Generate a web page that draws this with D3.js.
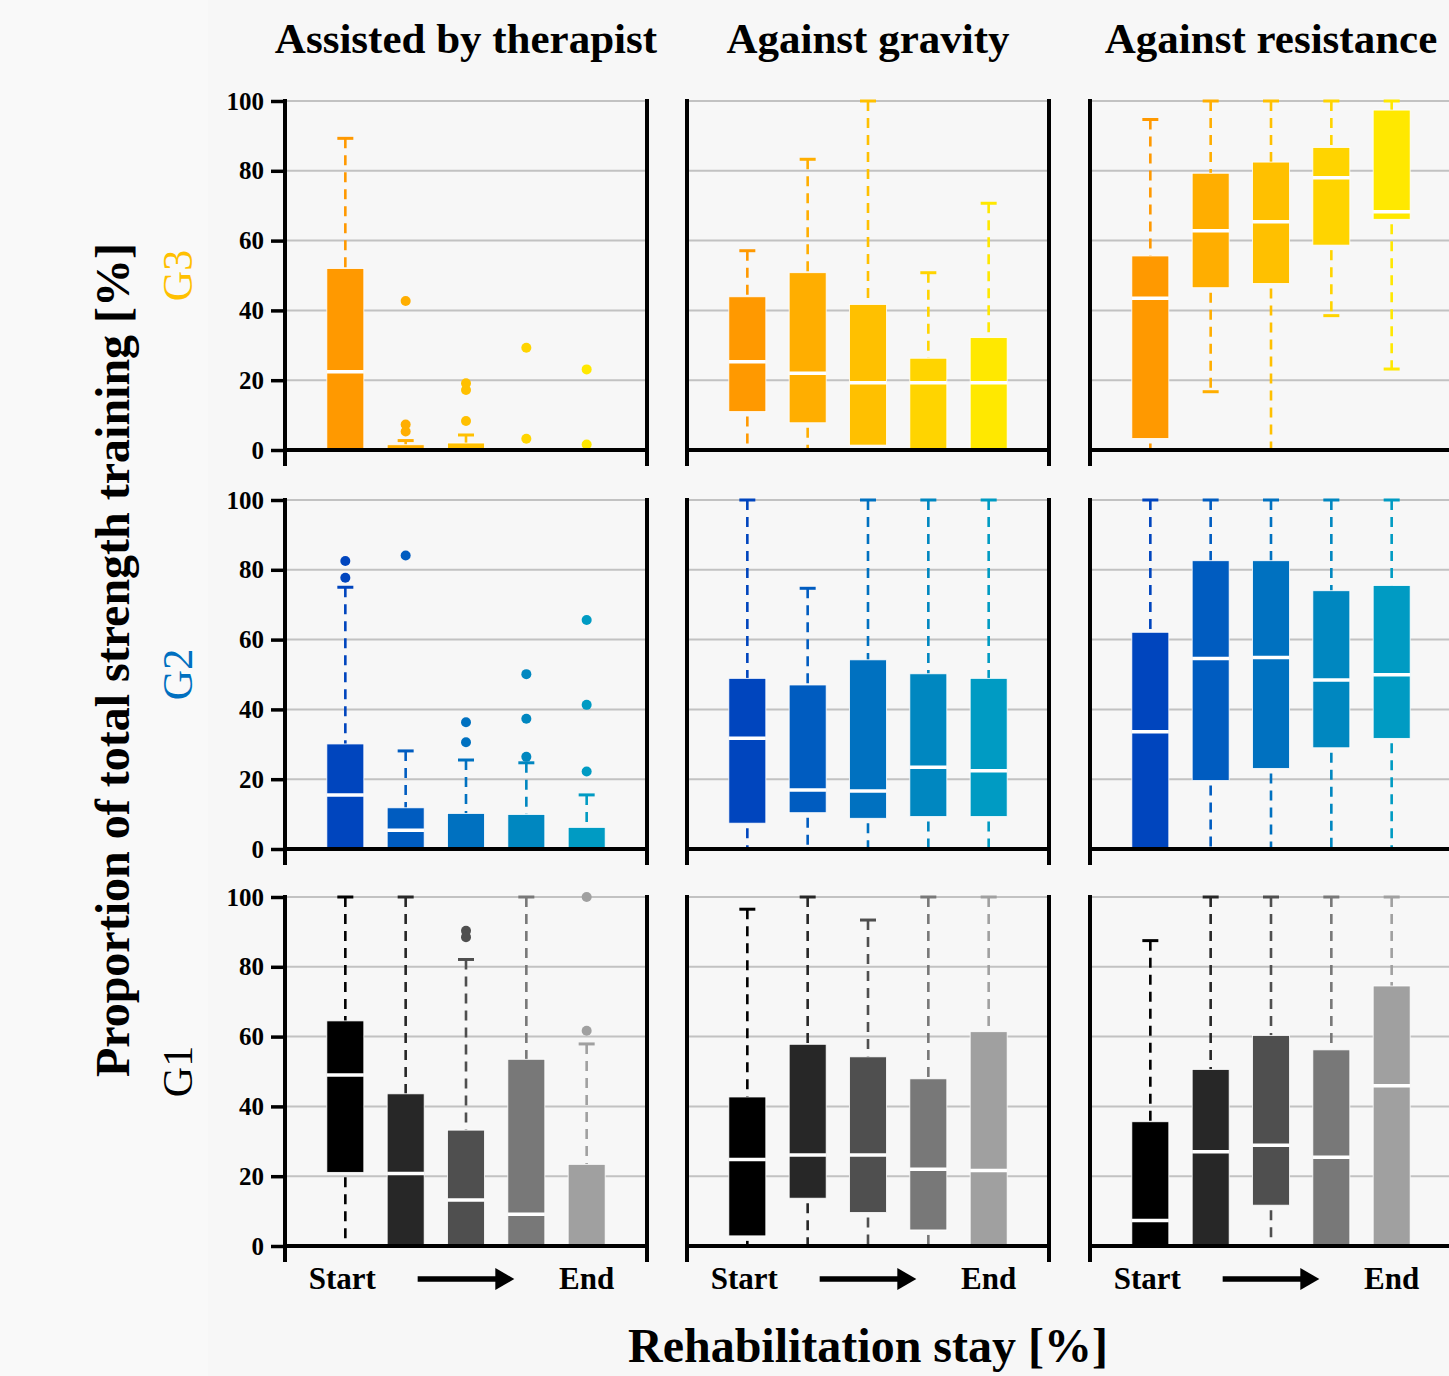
<!DOCTYPE html>
<html>
<head>
<meta charset="utf-8">
<script src="https://cdn.jsdelivr.net/npm/d3@7"></script>
<style>
	body { margin: 0; background: #f7f7f7; }
	svg { display: block; }
	text { font-family: 'Liberation Serif', 'Times New Roman', serif; font-weight: bold; fill: #000; }
</style>
</head>
<body>
<svg id="chart" width="1449" height="1376"></svg>
<script>
// groups (rows, top to bottom) and training types (columns)
var aGroups = ['G3', 'G2', 'G1'];
var aGroupColors = ['#FFC000', '#0070C0', '#000000'];
var aTrainingTypes = ['Assisted by therapist', 'Against gravity', 'Against resistance'];
var aPhases = ['P1', 'P2', 'P3', 'P4', 'P5'];
var aTicks = [0, 20, 40, 60, 80, 100];

var aColorsG3 = ['#FF9900', '#FFAE00', '#FFC000', '#FFD400', '#FFE800'];
var aColorsG2 = ['#0045BE', '#005CC0', '#0071C0', '#0087C0', '#009BC3'];
var aColorsG1 = ['#000000', '#272727', '#4F4F4F', '#787878', '#A0A0A0'];

// box stats per phase: [lower whisker, q1, median, q3, upper whisker]
var aG3Assisted = [[0, 0, 22.4, 52, 89.3], [0, 0, 0, 1.5, 2.7], [0, 0, 0, 2, 4.3], [0, 0, 0, 0, 0], [0, 0, 0, 0, 0]];
var aG3Gravity = [[0, 11, 25.3, 43.9, 57.1], [0, 7.8, 22, 50.8, 83.3], [0, 1.4, 19.3, 41.7, 100], [0, 0, 19.3, 26.3, 50.8], [0, 0, 19.3, 32.2, 70.7]];
var aG3Resistance = [[0, 3.3, 43.5, 55.6, 94.7], [16.7, 46.5, 62.8, 79.3, 100], [0, 47.7, 65.4, 82.5, 100], [38.5, 58.7, 78, 86.7, 100], [23.2, 66.1, 68.3, 97.4, 100]];

var aG2Assisted = [[0, 0, 15.5, 30.1, 75], [0, 0, 5.4, 11.8, 28.1], [0, 0, 0, 10.2, 25.5], [0, 0, 0, 9.9, 24.7], [0, 0, 0, 6.2, 15.5]];
var aG2Gravity = [[0, 7.4, 31.7, 48.9, 100], [0, 10.4, 16.9, 47, 74.7], [0, 8.8, 16.6, 54.2, 100], [0, 9.3, 23.4, 50.2, 100], [0, 9.3, 22.4, 48.9, 100]];
var aG2Resistance = [[0, 0, 33.6, 62.1, 100], [0, 19.6, 54.6, 82.6, 100], [0, 23.1, 54.9, 82.6, 100], [0, 29, 48.4, 74, 100], [0, 31.7, 49.9, 75.5, 100]];

var aG1Assisted = [[0, 21.1, 49, 64.5, 100], [0, 0, 20.8, 43.6, 100], [0, 0, 13.2, 33.2, 82.1], [0, 0, 9.1, 53.5, 100], [0, 0, 0, 23.4, 57.9]];
var aG1Gravity = [[0, 2.9, 24.8, 42.7, 96.5], [0, 13.7, 26.1, 57.8, 100], [0, 9.6, 26.1, 54.2, 93.4], [0, 4.6, 22, 47.9, 100], [0, 0, 21.6, 61.4, 100]];
var aG1Resistance = [[0, 0, 7.3, 35.6, 87.5], [0, 0, 27, 50.6, 100], [0, 11.7, 28.9, 60.3, 100], [0, 0, 25.4, 56.2, 100], [0, 0, 45.9, 74.5, 100]];

// outliers per phase
var aG3AssistedOut = [[], [42.7, 7.3, 5.3], [19.1, 17.2, 8.3], [29.3, 3.2], [23.1, 1.6]];
var aG2AssistedOut = [[82.5, 77.7], [84.1], [36.3, 30.6], [50.1, 37.3, 26.4], [65.6, 41.3, 22.2]];
var aG1AssistedOut = [[], [], [90.3, 88.5], [], [100, 61.7]];
var aNoOut = [[], [], [], [], []];

var aPanels = [
	[aG3Assisted, aG3Gravity, aG3Resistance],
	[aG2Assisted, aG2Gravity, aG2Resistance],
	[aG1Assisted, aG1Gravity, aG1Resistance]
];
var aPanelOutliers = [
	[aG3AssistedOut, aNoOut, aNoOut],
	[aG2AssistedOut, aNoOut, aNoOut],
	[aG1AssistedOut, aNoOut, aNoOut]
];
var aRowColors = [aColorsG3, aColorsG2, aColorsG1];

var sSvg = d3.select('#chart');

// layout
var aColLeft = [285, 687, 1090];
var aRowTop = [101, 500, 897];
var nPanelWidth = 362;
var nPanelHeight = 349;
var nBoxWidth = 37;
var nCapWidth = 16;

sSvg.append('rect').attr('x', 0).attr('y', 0).attr('width', 1449).attr('height', 1376).attr('fill', '#f7f7f7');
sSvg.append('rect').attr('x', 0).attr('y', 0).attr('width', 208).attr('height', 1376).attr('fill', '#f9f9f9');

function DrawPanel(nRow, nCol)
{
	var aStats = aPanels[nRow][nCol];
	var aOut = aPanelOutliers[nRow][nCol];
	var aColors = aRowColors[nRow];

	var xScale = d3.scalePoint().domain(aPhases).range([0, nPanelWidth]).padding(1);
	var yScale = d3.scaleLinear().domain([0, 100]).range([nPanelHeight, 0]);

	var g = sSvg.append('g')
		.attr('transform', 'translate(' + aColLeft[nCol] + ',' + aRowTop[nRow] + ')');

	// gridlines
	g.selectAll('.grid')
		.data(aTicks)
		.enter()
			.append('line')
			.attr('x1', 0)
			.attr('x2', nPanelWidth)
			.attr('y1', function(d) { return yScale(d); })
			.attr('y2', function(d) { return yScale(d); })
			.attr('stroke', '#c2c2c2')
			.attr('stroke-width', 2);

	var sBoxes = g.selectAll('.box')
		.data(aStats)
		.enter()
			.append('g')
			.attr('transform', function(d, i) { return 'translate(' + xScale(aPhases[i]) + ',0)'; });

	// upper whisker, drawn from cap down so dashes start at the cap
	sBoxes.filter(function(d) { return d[4] > d[3]; })
		.append('line')
			.attr('x1', 0).attr('x2', 0)
			.attr('y1', function(d) { return yScale(d[4]); })
			.attr('y2', function(d) { return yScale(d[3]); })
			.attr('stroke', function(d) { return aColors[aStats.indexOf(d)]; })
			.attr('stroke-width', 2.6)
			.attr('stroke-dasharray', '10,7');

	sBoxes.filter(function(d) { return d[4] > d[3]; })
		.append('line')
			.attr('x1', -nCapWidth / 2).attr('x2', nCapWidth / 2)
			.attr('y1', function(d) { return yScale(d[4]); })
			.attr('y2', function(d) { return yScale(d[4]); })
			.attr('stroke', function(d) { return aColors[aStats.indexOf(d)]; })
			.attr('stroke-width', 3);

	// lower whisker
	sBoxes.filter(function(d) { return d[1] > d[0]; })
		.append('line')
			.attr('x1', 0).attr('x2', 0)
			.attr('y1', function(d) { return yScale(d[1]) + 5; })
			.attr('y2', function(d) { return yScale(d[0]); })
			.attr('stroke', function(d) { return aColors[aStats.indexOf(d)]; })
			.attr('stroke-width', 2.6)
			.attr('stroke-dasharray', '10,7');

	sBoxes.filter(function(d) { return d[1] > d[0] && d[0] > 0; })
		.append('line')
			.attr('x1', -nCapWidth / 2).attr('x2', nCapWidth / 2)
			.attr('y1', function(d) { return yScale(d[0]); })
			.attr('y2', function(d) { return yScale(d[0]); })
			.attr('stroke', function(d) { return aColors[aStats.indexOf(d)]; })
			.attr('stroke-width', 3);

	// box
	sBoxes.filter(function(d) { return d[3] > d[1]; })
		.append('rect')
			.attr('x', -nBoxWidth / 2)
			.attr('width', nBoxWidth)
			.attr('y', function(d) { return yScale(d[3]); })
			.attr('height', function(d) { return yScale(d[1]) - yScale(d[3]); })
			.attr('fill', function(d) { return aColors[aStats.indexOf(d)]; })
			.attr('stroke', '#ffffff')
			.attr('stroke-width', 0.8);

	// median
	sBoxes.filter(function(d) { return d[2] > 0; })
		.append('line')
			.attr('x1', -nBoxWidth / 2).attr('x2', nBoxWidth / 2)
			.attr('y1', function(d) { return yScale(d[2]); })
			.attr('y2', function(d) { return yScale(d[2]); })
			.attr('stroke', '#ffffff')
			.attr('stroke-width', 3.5);

	// outliers
	aOut.forEach(function(aVals, i)
	{
		g.selectAll(null)
			.data(aVals)
			.enter()
				.append('circle')
				.attr('cx', xScale(aPhases[i]))
				.attr('cy', function(d) { return yScale(d); })
				.attr('r', 5)
				.attr('fill', aColors[i]);
	});

	// frame: left axis, right border, bottom axis
	g.append('line')
		.attr('x1', 0).attr('x2', 0)
		.attr('y1', -2).attr('y2', nPanelHeight + 16)
		.attr('stroke', '#000').attr('stroke-width', 4);
	g.append('line')
		.attr('x1', nPanelWidth).attr('x2', nPanelWidth)
		.attr('y1', -2).attr('y2', nPanelHeight + 16)
		.attr('stroke', '#000').attr('stroke-width', 4);
	g.append('line')
		.attr('x1', -2).attr('x2', nPanelWidth + 2)
		.attr('y1', nPanelHeight).attr('y2', nPanelHeight)
		.attr('stroke', '#000').attr('stroke-width', 4);

	if (nCol == 0)
	{
		var yAxis = d3.axisLeft(yScale).tickValues(aTicks).tickSize(14).tickPadding(7);
		var sAxis = g.append('g').call(yAxis);
		sAxis.select('.domain').remove();
		sAxis.selectAll('.tick line').attr('stroke', '#000').attr('stroke-width', 3.5);
		sAxis.selectAll('.tick text')
			.attr('font-family', null)
			.attr('font-size', null)
			.style('font-size', '25px')
			.style('fill', '#000');
	}

	if (nRow == 2)
	{
		var nBase = nPanelHeight + 43;
		g.append('text')
			.attr('x', xScale(aPhases[0]) - 3)
			.attr('y', nBase)
			.attr('text-anchor', 'middle')
			.style('font-size', '31px')
			.text('Start');
		g.append('text')
			.attr('x', xScale(aPhases[4]))
			.attr('y', nBase)
			.attr('text-anchor', 'middle')
			.style('font-size', '31px')
			.text('End');

		var x0 = xScale(aPhases[1]) + 12;
		var x1 = xScale(aPhases[3]) - 12;
		var yA = nBase - 10;
		g.append('line')
			.attr('x1', x0).attr('x2', x1 - 16)
			.attr('y1', yA).attr('y2', yA)
			.attr('stroke', '#000').attr('stroke-width', 5.5);
		g.append('path')
			.attr('d', 'M' + (x1 - 19) + ',' + (yA - 11) + ' L' + x1 + ',' + yA + ' L' + (x1 - 19) + ',' + (yA + 11) + ' Z')
			.attr('fill', '#000');
	}

	if (nRow == 0)
	{
		sSvg.append('text')
			.attr('x', aColLeft[nCol] + nPanelWidth / 2)
			.attr('y', 53)
			.attr('text-anchor', 'middle')
			.style('font-size', '43px')
			.text(aTrainingTypes[nCol]);
	}
}

aGroups.forEach(function(strGroup, nRow)
{
	aTrainingTypes.forEach(function(strType, nCol)
	{
		DrawPanel(nRow, nCol);
	});

	var yMid = aRowTop[nRow] + nPanelHeight / 2;
	sSvg.append('text')
		.attr('transform', 'translate(192,' + yMid + ') rotate(-90)')
		.attr('text-anchor', 'middle')
		.style('font-size', '42px')
		.style('font-weight', 'normal')
		.style('fill', aGroupColors[nRow])
		.text(strGroup);
});

sSvg.append('text')
	.attr('transform', 'translate(129,660) rotate(-90)')
	.attr('text-anchor', 'middle')
	.style('font-size', '48px')
	.text('Proportion of total strength training [%]');

sSvg.append('text')
	.attr('x', 868)
	.attr('y', 1362)
	.attr('text-anchor', 'middle')
	.style('font-size', '48px')
	.text('Rehabilitation stay [%]');
</script>
</body>
</html>
